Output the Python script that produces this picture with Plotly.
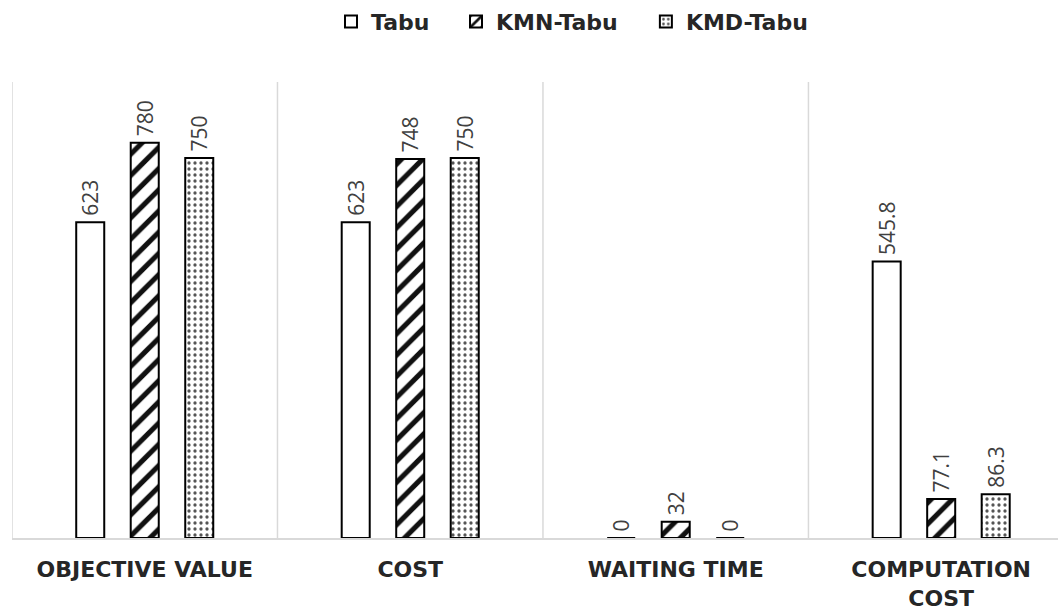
import plotly.graph_objects as go

# Metrics compared across the three heuristics
categories = ["OBJECTIVE VALUE", "COST", "WAITING TIME", "COMPUTATION<br>COST"]
tabu = [623, 623, 0, 545.8]
kmn_tabu = [780, 748, 32, 77.1]
kmd_tabu = [750, 750, 0, 86.3]

series = [
    ("Tabu", tabu, dict(shape="", fgcolor="black", bgcolor="white")),
    ("KMN-Tabu", kmn_tabu, dict(shape="/", fgcolor="#111111", bgcolor="white",
                                fgopacity=1, size=15, solidity=0.34)),
    ("KMD-Tabu", kmd_tabu, dict(shape=".", fgcolor="#555555", bgcolor="white",
                                fgopacity=1, size=6, solidity=0.24)),
]
# each series gets its own legend box along the top edge
legend_ids = ["legend", "legend2", "legend3"]
legend_x = [0.305, 0.4245, 0.606]

label_font = dict(family="Open Sans", size=21, color="#404040")
legend_font = dict(family="DejaVu Sans", size=22, color="#262626", weight="bold")

fig = go.Figure()
for (name, values, pattern), lg in zip(series, legend_ids):
    fig.add_trace(go.Bar(
        name=name,
        legend=lg,
        x=categories,
        y=values,
        # thin space keeps the value label a little clear of the bar top
        text=["\u2009" + f"{v:g}" for v in values],
        textposition="outside",
        textangle=-90,
        textfont=label_font,
        constraintext="none",
        cliponaxis=False,
        marker=dict(color="white", line=dict(color="black", width=2),
                    pattern=pattern),
    ))

# light vertical separators at the category boundaries
for i in range(len(categories)):
    fig.add_shape(type="line", xref="x", yref="paper",
                  x0=i - 0.5, x1=i - 0.5, y0=0, y1=1,
                  line=dict(color="#d9d9d9", width=1.5), layer="below")

legend_layout = {
    lg: dict(orientation="h", x=lx, xanchor="left", y=1.132, yanchor="middle",
             font=legend_font, itemwidth=30, bgcolor="rgba(0,0,0,0)")
    for lg, lx in zip(legend_ids, legend_x)
}

fig.update_layout(
    width=1058, height=610,
    margin=dict(l=12, r=0, t=82, b=72),
    paper_bgcolor="white", plot_bgcolor="white",
    barmode="group", bargap=0.384, bargroupgap=0.486,
    showlegend=True,
    xaxis=dict(range=[-0.5, 3.44], showgrid=False, showline=True,
               linecolor="#d9d9d9", linewidth=2, ticks="",
               automargin=False, ticklabelstandoff=11,
               tickfont=dict(family="DejaVu Sans", size=22, color="#262626",
                             weight="bold")),
    yaxis=dict(range=[0, 900], visible=False, showgrid=False,
               automargin=False),
    **legend_layout,
)

fig.write_html("out.html")
